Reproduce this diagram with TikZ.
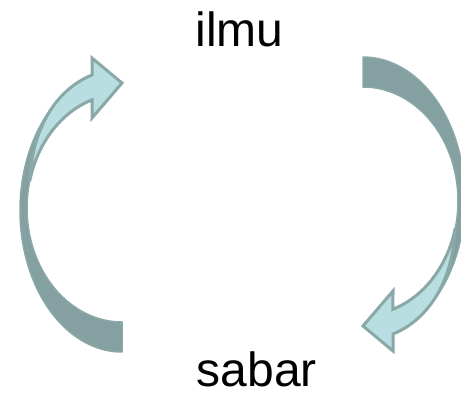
\documentclass[tikz,border=0pt]{standalone}
\usepackage{fontspec}
\setmainfont{Liberation Sans}
\definecolor{arrowdark}{HTML}{84A0A0}
\definecolor{arrowedge}{HTML}{8AA8A8}
\definecolor{arrowlight}{HTML}{B8DEE2}
\tikzset{
  darkband/.style={fill=arrowdark, draw=arrowedge, line width=1.5pt, line join=round},
  lightband/.style={fill=arrowlight, draw=arrowedge, line width=3pt, line join=miter},
  wordtext/.style={font=\fontsize{48}{58}\selectfont, inner sep=0pt, text=black}
}
\newcommand\drawcurvedarrow{%
  \path[darkband]
    plot[domain=90:253.1, samples=80] ({122+102*cos(\x)},{210.4+141.6*sin(\x)})
    -- plot[domain=251.6:90, samples=80] ({122+95*cos(\x)},{208+114*sin(\x)})
    -- cycle;
  \path[lightband]
    plot[domain=194.2:251.6, samples=50] ({122+95*cos(\x)},{208+114*sin(\x)})
    -- (92,118) -- (122,83) -- (92,58) -- (92,75)
    .. controls (55,90) and (32,130) .. (30,180) -- cycle;
}
\begin{document}
\begin{tikzpicture}[x=1pt, y=-1pt]
  \useasboundingbox (0,0) rectangle (461,397);
  \begin{scope}
    \clip (0,0) rectangle (461,397);
    \drawcurvedarrow
    \begin{scope}[rotate around={180:(242.5,204.5)}]
      \drawcurvedarrow
    \end{scope}
  \end{scope}
  \node[wordtext, anchor=base west] (ilmu) at (195.2,46.7) {ilmu};
  \node[wordtext, anchor=base west] (sabar) at (196.6,386.7) {sabar};
\end{tikzpicture}
\end{document}
